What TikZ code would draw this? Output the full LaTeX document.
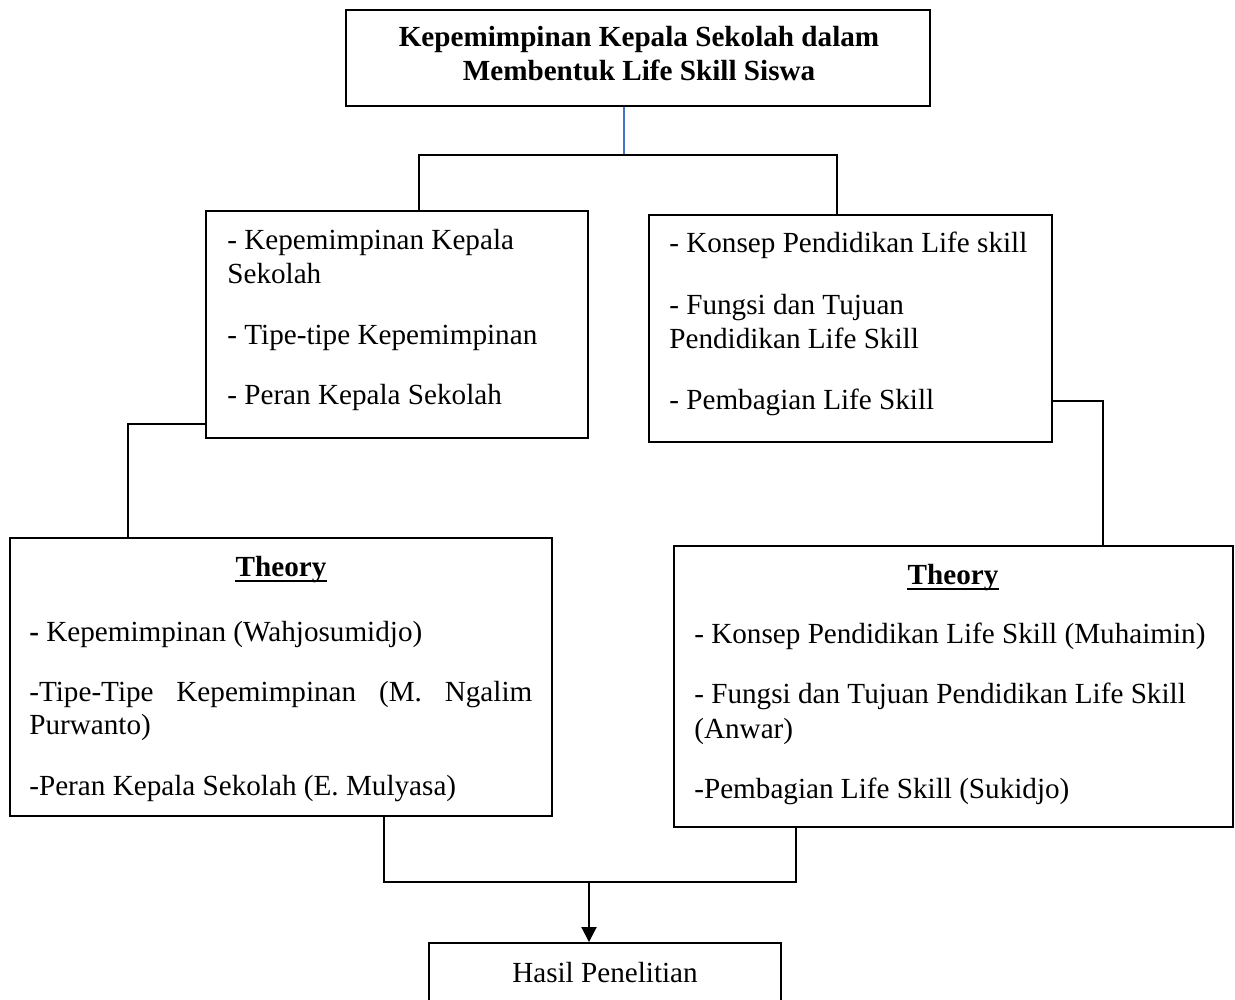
\documentclass[tikz,border=0pt]{standalone}
\usepackage{fontspec}
\setmainfont{Liberation Serif}
\usetikzlibrary{arrows.meta}
\definecolor{linkblue}{RGB}{68,114,196}
\begin{document}
\begin{tikzpicture}[x=0.02cm,y=-0.02cm,
  box/.style={draw,line width=1.1pt,rectangle,inner sep=0pt},
  txt/.style={anchor=base west,inner sep=0pt,font=\fontsize{16.6pt}{19.4pt}\selectfont},
  ctxt/.style={anchor=base,inner sep=0pt,font=\fontsize{16.6pt}{19.4pt}\selectfont},
  conn/.style={line width=1.1pt}]
\useasboundingbox (0,0) rectangle (1235,1000);
% boxes
\node[box,minimum width=11.68cm,minimum height=1.92cm] (T) at (638,58) {};
\node[box,minimum width=7.64cm,minimum height=4.54cm] (A) at (397,324.5) {};
\node[box,minimum width=8.06cm,minimum height=4.54cm] (B) at (850.5,328.5) {};
\node[box,minimum width=10.84cm,minimum height=5.56cm] (C) at (281,677) {};
\node[box,minimum width=11.18cm,minimum height=5.62cm] (D) at (953.5,686.5) {};
\node[box,minimum width=7.04cm,minimum height=1.8cm] (E) at (605,988) {};
% title
\node[ctxt] (t1) at (639,47) {\textbf{Kepemimpinan Kepala Sekolah dalam}};
\node[ctxt] (t2) at (639,81) {\textbf{Membentuk Life Skill Siswa}};
% A
\node[txt] (a1) at (227,250) {- Kepemimpinan Kepala};
\node[txt] (a2) at (227,284) {Sekolah};
\node[txt] (a3) at (227,345) {- Tipe-tipe Kepemimpinan};
\node[txt] (a4) at (227,405) {- Peran Kepala Sekolah};
% B
\node[txt] (b1) at (669,253) {- Konsep Pendidikan Life skill};
\node[txt] (b2) at (669,315) {- Fungsi dan Tujuan};
\node[txt] (b3) at (669,349) {Pendidikan Life Skill};
\node[txt] (b4) at (669,410) {- Pembagian Life Skill};
% C
\node[ctxt] (c0) at (281,576) {\textbf{Theory}};
\draw[line width=1.1pt] ([yshift=-3pt]c0.base west) -- ([yshift=-3pt]c0.base east);
\node[txt] (c1) at (29,641) {\textbf{-} Kepemimpinan (Wahjosumidjo)};
\node[txt] (c2) at (29,701) {\makebox[10.06cm][s]{-Tipe-Tipe Kepemimpinan (M. Ngalim}};
\node[txt] (c3) at (29,734) {Purwanto)};
\node[txt] (c4) at (29,795) {-Peran Kepala Sekolah (E. Mulyasa)};
% D
\node[ctxt] (d0) at (953,584) {\textbf{Theory}};
\draw[line width=1.1pt] ([yshift=-3pt]d0.base west) -- ([yshift=-3pt]d0.base east);
\node[txt] (d1) at (694,643) {- Konsep Pendidikan Life Skill (Muhaimin)};
\node[txt] (d2) at (694,703) {- Fungsi dan Tujuan Pendidikan Life Skill};
\node[txt] (d3) at (694,738) {(Anwar)};
\node[txt] (d4) at (694,798) {-Pembagian Life Skill (Sukidjo)};
% E
\node[ctxt] (e1) at (605,982) {Hasil Penelitian};
% connectors
\coordinate (j1) at (624,155);
\coordinate (jl) at (419,155);
\coordinate (jr) at (837,155);
\coordinate (cl) at (128,424);
\coordinate (cr) at (1103,401);
\coordinate (bl) at (384,882);
\coordinate (br) at (796,882);
\coordinate (bm) at (589,882);
\draw[linkblue,line width=0.9pt] (T.south -| j1) -- (j1);
\draw[conn] (A.north -| jl) |- (jr) -- (B.north -| jr);
\draw[conn] (A.west |- cl) -| (C.north -| cl);
\draw[conn] (B.east |- cr) -| (D.north -| cr);
\draw[conn] (C.south -| bl) |- (br) -- (D.south -| br);
\draw[conn,-{Triangle[width=0.3cm,length=0.3cm]}] (bm) -- (E.north -| bm);
\end{tikzpicture}
\end{document}
